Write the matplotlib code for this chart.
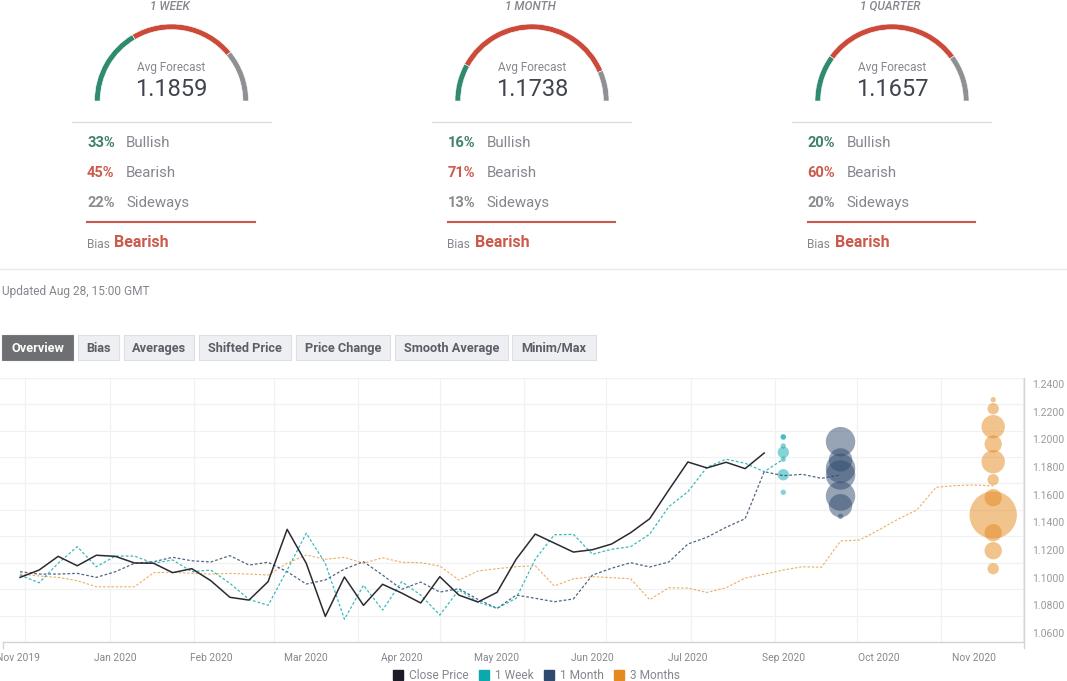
import matplotlib
matplotlib.use('Agg')
import matplotlib.pyplot as plt
from matplotlib.patches import Wedge, Rectangle, Patch
from matplotlib.transforms import ScaledTranslation
import matplotlib.dates as mdates
import pandas as pd

plt.rcParams['font.family'] = ['Roboto', 'DejaVu Sans']

# gauges
horizons = ['1 WEEK', '1 MONTH', '1 QUARTER']
avg_forecast = ['1.1859', '1.1738', '1.1657']
bullish = [33, 16, 20]
bearish = [45, 71, 60]
sideways = [22, 13, 20]
bias = ['Bearish', 'Bearish', 'Bearish']
updated = 'Updated Aug 28, 15:00 GMT'
buttons = ['Overview', 'Bias', 'Averages', 'Shifted Price', 'Price Change', 'Smooth Average', 'Minim/Max']

# weekly series, starting at the first date
first_date = '2019-11-29'
close_price = [1.1002, 1.1055, 1.1154, 1.1086, 1.1162, 1.1154, 1.1106, 1.1104, 1.1036, 1.1065,
               1.0978, 1.0858, 1.0838, 1.0971, 1.1349, 1.1104, 1.0720, 1.1005, 1.0800, 1.0952,
               1.0889, 1.0817, 1.1007, 1.0874, 1.0824, 1.0894, 1.1133, 1.1315, 1.1250, 1.1185,
               1.1202, 1.1243, 1.1325, 1.1426, 1.1634, 1.1836, 1.1793, 1.1834, 1.1788, 1.1901]
week_fc = [1.1019, 1.0963, 1.1104, 1.1224, 1.1079, 1.1156, 1.1156, 1.1104, 1.1128, 1.1043,
           1.1055, 1.0959, 1.0843, 1.0800, 1.1055, 1.1321, 1.1104, 1.0699, 1.0945, 1.0766,
           1.0971, 1.0874, 1.0730, 1.0911, 1.0824, 1.0778, 1.0851, 1.1133, 1.1310, 1.1313,
           1.1169, 1.1205, 1.1224, 1.1315, 1.1513, 1.1621, 1.1798, 1.1856, 1.1827, 1.1766, 1.1856]
month_fc = [1.1043, 1.1026, 1.1026, 1.1031, 1.1002, 1.1043, 1.1104, 1.1115, 1.1147, 1.1122,
            1.1113, 1.1159, 1.1091, 1.1111, 1.1043, 1.0954, 1.0983, 1.1062, 1.1115, 1.1019,
            1.0916, 1.0968, 1.0896, 1.0920, 1.0843, 1.0778, 1.0874, 1.0851, 1.0826, 1.0846,
            1.1019, 1.1068, 1.1108, 1.1077, 1.1113, 1.1243, 1.1292, 1.1364, 1.1426, 1.1766,
            1.1737, 1.1747, 1.1718, 1.1742]
quarter_fc = [1.1026, 1.1012, 1.1002, 1.0978, 1.0934, 1.0934, 1.0934, 1.1036, 1.1039, 1.1031,
              1.1026, 1.1031, 1.1026, 1.1019, 1.1104, 1.1164, 1.1133, 1.1147, 1.1104, 1.1144,
              1.1111, 1.1108, 1.1084, 1.0983, 1.1048, 1.1065, 1.1079, 1.1086, 1.0940, 1.0992,
              1.1007, 1.1000, 1.0992, 1.0841, 1.0927, 1.0925, 1.0893, 1.0927, 1.0997, 1.1025,
              1.1055, 1.1079, 1.1075, 1.1265, 1.1272, 1.1344, 1.1422, 1.1489, 1.1653, 1.1665,
              1.1670, 1.1663]

# forecast bubbles: price and how many forecasts
week_date = '2020-09-04'
week_prices = [1.2017, 1.2017, 1.1952, 1.1906, 1.1856, 1.1744, 1.1617]
week_counts = [1, 1, 1, 2, 1, 2, 1]
month_date = '2020-09-25'
month_prices = [1.1983, 1.1851, 1.1790, 1.1742, 1.1590, 1.1520, 1.1443]
month_counts = [5, 4, 5, 5, 5, 4, 1]
quarter_date = '2020-11-20'
quarter_prices = [1.2286, 1.2221, 1.2091, 1.1966, 1.1838, 1.1708, 1.1578, 1.1453, 1.1325, 1.1195, 1.1065]
quarter_counts = [1, 2, 4, 3, 4, 2, 3, 8, 3, 3, 2]

y_labels = [1.24, 1.22, 1.20, 1.18, 1.16, 1.14, 1.12, 1.10, 1.08, 1.06]
grid_levels = [1.2255, 1.2060, 1.1869, 1.1681, 1.1489, 1.1301, 1.1106, 1.0918, 1.0723, 1.2441]

GREEN = '#2f8a6f'
RED = '#cb4a3a'
GRAY = '#8f9094'
TEXT = '#85878e'
BLACK = '#1c1c28'
TEAL = '#0aa9ae'
NAVY = '#2f4a6e'
ORANGE = '#e58a1f'

W, H = 1067, 681
fig = plt.figure(figsize=(W / 100, H / 100), dpi=100)

# chart part
ax = fig.add_axes([0, (H - 642) / H, 1024 / W, (642 - 378) / H])
start = pd.Timestamp(first_date)
x_left = start - pd.Timedelta(days=7.34)
x_right = start + pd.Timedelta(days=368.3)
ax.set_xlim(x_left, x_right)
ax.set_ylim(1.0535, 1.2443)

def weeks(series):
    return pd.date_range(start, periods=len(series), freq='7D')

dash = (0, (2.2, 1.6))
ax.plot(weeks(quarter_fc), quarter_fc, color=ORANGE, lw=0.8, ls=dash, alpha=0.7, zorder=3)
ax.plot(weeks(month_fc), month_fc, color=NAVY, lw=0.9, ls=dash, alpha=0.85, zorder=4)
ax.plot(weeks(week_fc), week_fc, color=TEAL, lw=0.9, ls=dash, alpha=0.8, zorder=4)
ax.plot(weeks(close_price), close_price, color='#2a2a32', lw=1.1, zorder=5)

def bubbles(date, prices, counts, color, alpha):
    # radius in pixels grows with the count
    sizes = [(2 * (3 * n - 0.3) * 0.72) ** 2 for n in counts]
    ax.scatter([pd.Timestamp(date)] * len(prices), prices, s=sizes, color=color,
               alpha=alpha, linewidths=0, zorder=3, clip_on=False)

bubbles(week_date, week_prices, week_counts, TEAL, 0.5)
bubbles(month_date, month_prices, month_counts, NAVY, 0.5)
bubbles(quarter_date, quarter_prices, quarter_counts, ORANGE, 0.5)

ticks = pd.date_range(start, periods=11, freq='35D')
ax.set_xticks(ticks)
ax.set_xticklabels([d.strftime('%b %Y') for d in ticks])
ax.xaxis.set_minor_locator(mdates.MonthLocator())
ax.yaxis.tick_right()
ax.set_yticks(y_labels)
ax.set_yticklabels(['%.4f' % v for v in y_labels])
ax.set_yticks(grid_levels, minor=True)
ax.tick_params(axis='x', which='major', length=0, pad=7.8, labelsize=7.4, labelcolor='#85878e')
ax.tick_params(axis='y', which='major', length=0, pad=6, labelsize=7.6, labelcolor='#9a9ba0')
ax.tick_params(which='minor', length=0)
ax.grid(which='minor', color='#f1f1f3', lw=0.9)
ax.set_axisbelow(True)
for side in ['top', 'left']:
    ax.spines[side].set_visible(False)
for side in ['bottom', 'right']:
    ax.spines[side].set_color('#d4d4d6')
    ax.spines[side].set_linewidth(1)
ax.spines['bottom'].set_bounds(mdates.date2num(start - pd.Timedelta(days=6.2)), mdates.date2num(x_right))

# first label runs off the left edge
first = ax.get_xticklabels()[0]
first.set_transform(first.get_transform() + ScaledTranslation(-2 / 100, 0, fig.dpi_scale_trans))

handles = [Patch(color=BLACK), Patch(color=TEAL), Patch(color=NAVY), Patch(color=ORANGE)]
fig.legend(handles, ['Close Price', '1 Week', '1 Month', '3 Months'], ncol=4, frameon=False,
           loc='center', bbox_to_anchor=(536.5 / W, (H - 675.5) / H), fontsize=8.6,
           labelcolor=TEXT, handlelength=0.84, handleheight=0.84, handletextpad=0.5,
           columnspacing=0.85, borderpad=0, borderaxespad=0)

# gauges and buttons, in pixel coordinates
top = fig.add_axes([0, 0, 1, 1], facecolor='none')
top.set_xlim(0, W)
top.set_ylim(H, 0)
top.axis('off')

centers = [171.5, 532, 892]
for i, cx in enumerate(centers):
    top.text(cx - 2, 6, horizons[i], ha='center', va='center', fontsize=8.6, style='italic',
             color=TEXT, fontweight='medium')
    angle = 180
    for share, color in [(bullish[i], GREEN), (bearish[i], RED), (sideways[i], GRAY)]:
        sweep = share * 1.8
        top.add_patch(Wedge((cx, 101), 77, angle, angle + sweep, width=5.6, facecolor=color,
                            edgecolor='white', linewidth=0.4))
        angle += sweep
    top.text(cx, 67, 'Avg Forecast', ha='center', va='center', fontsize=8.5, color=TEXT)
    top.text(cx, 89, avg_forecast[i], ha='center', va='center', fontsize=17, color='#40444f')
    top.plot([cx - 100, cx + 99], [122, 122], color='#dcdcde', lw=1)
    rows = [(bullish[i], 'Bullish', '#3f8069', 143), (bearish[i], 'Bearish', '#cb5a4b', 173),
            (sideways[i], 'Sideways', '#8a8b8f', 203)]
    for pct, name, color, y in rows:
        top.text(cx - 84.5, y, '%d%%' % pct, va='center', fontsize=10.5, fontweight='bold', color=color)
        top.text(cx - 45.5, y, name, va='center', fontsize=10.8, color=TEXT)
    top.plot([cx - 84.5, cx + 83], [222, 222], color='#c9584a', lw=1.5)
    top.text(cx - 84.5, 244, 'Bias', va='center', fontsize=8.6, color=TEXT)
    top.text(cx - 57.5, 242.5, bias[i], va='center', fontsize=11.5, fontweight='bold', color='#cb5a4b')

top.plot([0, W], [269, 269], color='#e9e9eb', lw=1)
top.text(1.5, 291, updated, va='center', fontsize=8.6, color=TEXT)

edges = [(2, 73), (78, 119), (124, 194), (199, 291), (296, 390), (395, 508), (512, 596)]
for label, (x0, x1) in zip(buttons, edges):
    on = label == 'Overview'
    top.add_patch(Rectangle((x0, 335), x1 - x0 - 0.5, 24.5, facecolor='#6e6f72' if on else '#eeeff2',
                            edgecolor='#77787a' if on else '#dedfe2', lw=0.8))
    top.text((x0 + x1) / 2, 348.5, label, ha='center', va='center', fontsize=9.2, fontweight='bold',
             color='white' if on else '#5b5e66')

# ticks at both ends of the bottom axis
top.plot([3, 3], [642, 648], color='#d4d4d6', lw=1)
top.plot([1024, 1024], [642, 648], color='#d4d4d6', lw=1)

fig.savefig('out.png', dpi=100)
